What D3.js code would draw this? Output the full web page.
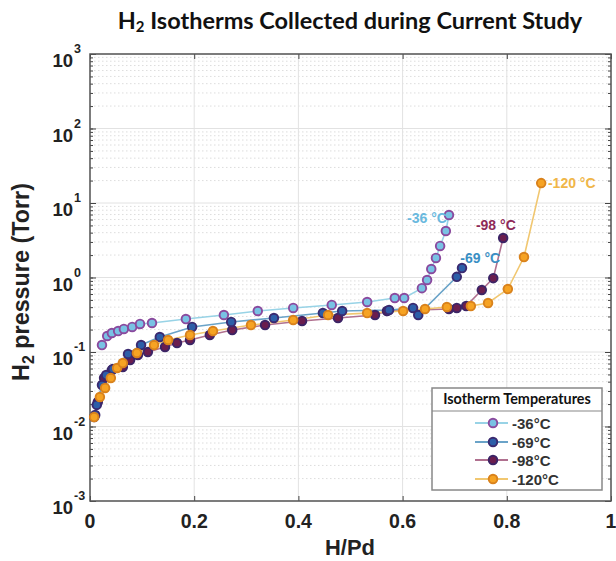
<!DOCTYPE html>
<html><head><meta charset="utf-8">
<script src="https://cdn.jsdelivr.net/npm/d3@7"></script>
<style>body{margin:0;background:#fff}</style>
</head><body>
<svg id="c" width="616" height="561"></svg>
<script>
const seriesNames = ["-36°C", "-69°C", "-98°C", "-120°C"];
const xTicks = [0, 0.2, 0.4, 0.6, 0.8, 1];
const xTickLabels = ["0", "0.2", "0.4", "0.6", "0.8", "1"];
const yTickExps = ["-3", "-2", "-1", "0", "1", "2", "3"];

const h36 = [0.023,0.033,0.042,0.054,0.065,0.081,0.096,0.119,0.184,0.257,0.322,0.390,0.464,0.532,0.585,0.603,0.637,0.647,0.655,0.664,0.672,0.683,0.689];
const p36 = [0.124,0.164,0.180,0.191,0.204,0.217,0.238,0.245,0.277,0.314,0.355,0.390,0.428,0.469,0.531,0.531,0.72,0.925,1.30,1.83,2.65,4.21,6.9];

const h69 = [0.010,0.013,0.023,0.031,0.044,0.073,0.098,0.134,0.196,0.271,0.353,0.447,0.484,0.574,0.620,0.630,0.704,0.714];
const p69 = [0.0143,0.0195,0.036,0.049,0.059,0.094,0.124,0.159,0.217,0.253,0.286,0.333,0.355,0.366,0.390,0.314,1.02,1.34];

const h98 = [0.008,0.015,0.027,0.042,0.063,0.077,0.092,0.111,0.144,0.167,0.192,0.230,0.273,0.336,0.407,0.476,0.547,0.570,0.689,0.704,0.722,0.752,0.774,0.793];
const p98 = [0.0134,0.0213,0.0448,0.0573,0.063,0.078,0.091,0.100,0.117,0.132,0.145,0.169,0.197,0.230,0.261,0.286,0.314,0.355,0.378,0.390,0.414,0.68,0.98,3.39];

const h120 = [0.008,0.019,0.029,0.040,0.052,0.063,0.090,0.123,0.150,0.192,0.236,0.309,0.390,0.457,0.532,0.601,0.643,0.685,0.731,0.764,0.802,0.833,0.866];
const p120 = [0.0134,0.0249,0.0329,0.0448,0.061,0.071,0.097,0.124,0.145,0.169,0.191,0.230,0.269,0.314,0.333,0.355,0.378,0.402,0.414,0.455,0.70,1.88,18.5];

const hs = [h36, h69, h98, h120];
const ps = [p36, p69, p98, p120];
const lineCol = ["#98d3e6", "#6aa3c8", "#b0708f", "#f1c770"];
const fillCol = ["#79c2e4", "#2d5ea8", "#6a1d4e", "#f6a323"];
const edgeCol = ["#8a4a9e", "#3a2a70", "#3b2466", "#d9821c"];
const labCol  = ["#6ab9de", "#3a8fc4", "#8e2a58", "#f0b648"];
const labPos = [[0.685, 6.3], [0.749, 1.83], [0.779, 5.1], [0.879, 18.5]];
const labAnchor = ["end", "middle", "middle", "start"];

const svg = d3.select("#c");
const L = 90, R = 611, T = 54, B = 501;
const x = d3.scaleLinear().domain([0, 1]).range([L, R]);
const y = d3.scaleLog().domain([1e-3, 1e3]).range([B, T]);

function fitWidth(sel, w) {
  const fs = +sel.attr("font-size");
  const bb = sel.node().getBBox();
  sel.attr("font-size", fs * w / bb.width);
  sel.selectAll("tspan").each(function () {
    const t = d3.select(this);
    if (t.attr("font-size")) t.attr("font-size", +t.attr("font-size") * w / bb.width);
  });
}

svg.append("rect").attr("x", L).attr("y", T).attr("width", R - L).attr("height", B - T).attr("fill", "#fff");

// minor horizontal grid
const g = svg.append("g");
for (let e = -3; e < 3; e++) {
  for (let m = 2; m <= 9; m++) {
    const v = m * Math.pow(10, e);
    g.append("line").attr("x1", L).attr("x2", R).attr("y1", y(v)).attr("y2", y(v))
      .attr("stroke", "#d4d4d4").attr("stroke-width", 0.8).attr("stroke-dasharray", "1.5,2.5");
  }
}
yTickExps.forEach(e => {
  const v = Math.pow(10, +e);
  g.append("line").attr("x1", L).attr("x2", R).attr("y1", y(v)).attr("y2", y(v))
    .attr("stroke", "#e2e2e2").attr("stroke-width", 1);
});
xTicks.forEach(t => {
  g.append("line").attr("x1", x(t)).attr("x2", x(t)).attr("y1", T).attr("y2", B)
    .attr("stroke", "#e2e2e2").attr("stroke-width", 1);
});

// axes with ticks inside
svg.append("g").attr("transform", `translate(0,${B})`).call(d3.axisBottom(x).tickValues(xTicks).tickSize(-5).tickFormat(""));
svg.append("g").attr("transform", `translate(0,${T})`).call(d3.axisTop(x).tickValues(xTicks).tickSize(-5).tickFormat(""));
const minorVals = [];
for (let e = -3; e < 3; e++) for (let m = 1; m <= 9; m++) minorVals.push(m * Math.pow(10, e));
minorVals.push(1000);
svg.append("g").attr("transform", `translate(${L},0)`).call(d3.axisLeft(y).tickValues(minorVals).tickSize(-3).tickFormat(""));
svg.append("g").attr("transform", `translate(${R},0)`).call(d3.axisRight(y).tickValues(minorVals).tickSize(-3).tickFormat(""));
const majVals = yTickExps.map(e => Math.pow(10, +e));
svg.append("g").attr("transform", `translate(${L},0)`).call(d3.axisLeft(y).tickValues(majVals).tickSize(-6).tickFormat(""));
svg.append("g").attr("transform", `translate(${R},0)`).call(d3.axisRight(y).tickValues(majVals).tickSize(-6).tickFormat(""));
svg.selectAll(".domain").remove();
svg.selectAll(".tick line").attr("stroke", "#444").attr("stroke-width", 1);
svg.append("rect").attr("x", L).attr("y", T).attr("width", R - L).attr("height", B - T)
  .attr("fill", "none").attr("stroke", "#555").attr("stroke-width", 1.5);

// tick labels
const tf = "'Liberation Sans', Arial, sans-serif";
xTicks.forEach((t, i) => {
  svg.append("text").attr("x", x(t)).attr("y", 528).attr("text-anchor", "middle")
    .attr("font-family", tf).attr("font-weight", "bold").attr("font-size", 19.5).attr("fill", "#222")
    .text(xTickLabels[i]);
});
yTickExps.forEach(e => {
  const yy = y(Math.pow(10, +e));
  svg.append("text").attr("x", 73).attr("y", yy + 13).attr("text-anchor", "end")
    .attr("font-family", tf).attr("font-weight", "bold").attr("font-size", 18.5).attr("fill", "#222").text("10");
  svg.append("text").attr("x", 74).attr("y", yy - 1).attr("text-anchor", "start")
    .attr("font-family", tf).attr("font-weight", "bold").attr("font-size", 12.5).attr("fill", "#222").text(e);
});

// axis titles
const xl = svg.append("text").attr("x", 350).attr("y", 555).attr("text-anchor", "middle")
  .attr("font-family", tf).attr("font-weight", "bold").attr("font-size", 20).attr("fill", "#222").text("H/Pd");
fitWidth(xl, 50);
const yl = svg.append("text").attr("transform", "translate(29,282) rotate(-90)").attr("text-anchor", "middle")
  .attr("font-family", tf).attr("font-weight", "bold").attr("font-size", 19).attr("fill", "#222");
yl.append("tspan").text("H");
yl.append("tspan").attr("font-size", 13).attr("dy", 5).text("2");
yl.append("tspan").attr("dy", -5).text(" pressure (Torr)");
fitWidth(yl, 198);

// title
const tt = svg.append("text").attr("x", 350).attr("y", 29).attr("text-anchor", "middle")
  .attr("font-family", "Lato, 'Open Sans', sans-serif").attr("font-weight", "bold").attr("font-size", 22).attr("fill", "#111");
tt.append("tspan").text("H");
tt.append("tspan").attr("font-size", 14).attr("dy", 3).text("2");
tt.append("tspan").attr("dy", -3).text(" Isotherms Collected during Current Study");
fitWidth(tt, 465);

// series
const order = [0, 2, 1, 3];
const line = d3.line().x(d => x(d[0])).y(d => y(d[1]));
order.forEach(i => {
  const pts = hs[i].map((h, k) => [h, ps[i][k]]);
  svg.append("path").datum(pts).attr("d", line).attr("fill", "none")
    .attr("stroke", lineCol[i]).attr("stroke-width", 1.6);
});
order.forEach(i => {
  const pts = hs[i].map((h, k) => [h, ps[i][k]]);
  svg.append("g").selectAll("circle").data(pts).join("circle")
    .attr("cx", d => x(d[0])).attr("cy", d => y(d[1])).attr("r", 4.3)
    .attr("fill", fillCol[i]).attr("stroke", edgeCol[i]).attr("stroke-width", 1.9);
});

// in-plot labels
seriesNames.forEach((n, i) => {
  svg.append("text").attr("x", x(labPos[i][0])).attr("y", y(labPos[i][1]) + 5)
    .attr("text-anchor", labAnchor[i]).attr("font-family", tf).attr("font-weight", "bold")
    .attr("font-size", 14).attr("fill", labCol[i]).text(n.replace("°", " °"));
});

// legend
const lg = svg.append("g");
lg.append("rect").attr("x", 432).attr("y", 388).attr("width", 170).attr("height", 102)
  .attr("fill", "#fff").attr("stroke", "#888").attr("stroke-width", 1.5);
lg.append("line").attr("x1", 432).attr("x2", 602).attr("y1", 411).attr("y2", 411).attr("stroke", "#888").attr("stroke-width", 1.2);
const lh = lg.append("text").attr("x", 517).attr("y", 404).attr("text-anchor", "middle")
  .attr("font-family", "Lato, 'Open Sans', sans-serif").attr("font-weight", "bold").attr("font-size", 13).attr("fill", "#111")
  .text("Isotherm Temperatures");
fitWidth(lh, 148);
const legY = [423, 442, 460, 479];
seriesNames.forEach((n, i) => {
  lg.append("line").attr("x1", 475).attr("x2", 508).attr("y1", legY[i]).attr("y2", legY[i])
    .attr("stroke", lineCol[i]).attr("stroke-width", 1.8);
  lg.append("circle").attr("cx", 493).attr("cy", legY[i]).attr("r", 4.3)
    .attr("fill", fillCol[i]).attr("stroke", edgeCol[i]).attr("stroke-width", 1.9);
  lg.append("text").attr("x", 512).attr("y", legY[i] + 5.5).attr("font-family", tf).attr("font-weight", "bold")
    .attr("font-size", 15).attr("fill", "#333").text(n);
});
</script>
</body></html>
